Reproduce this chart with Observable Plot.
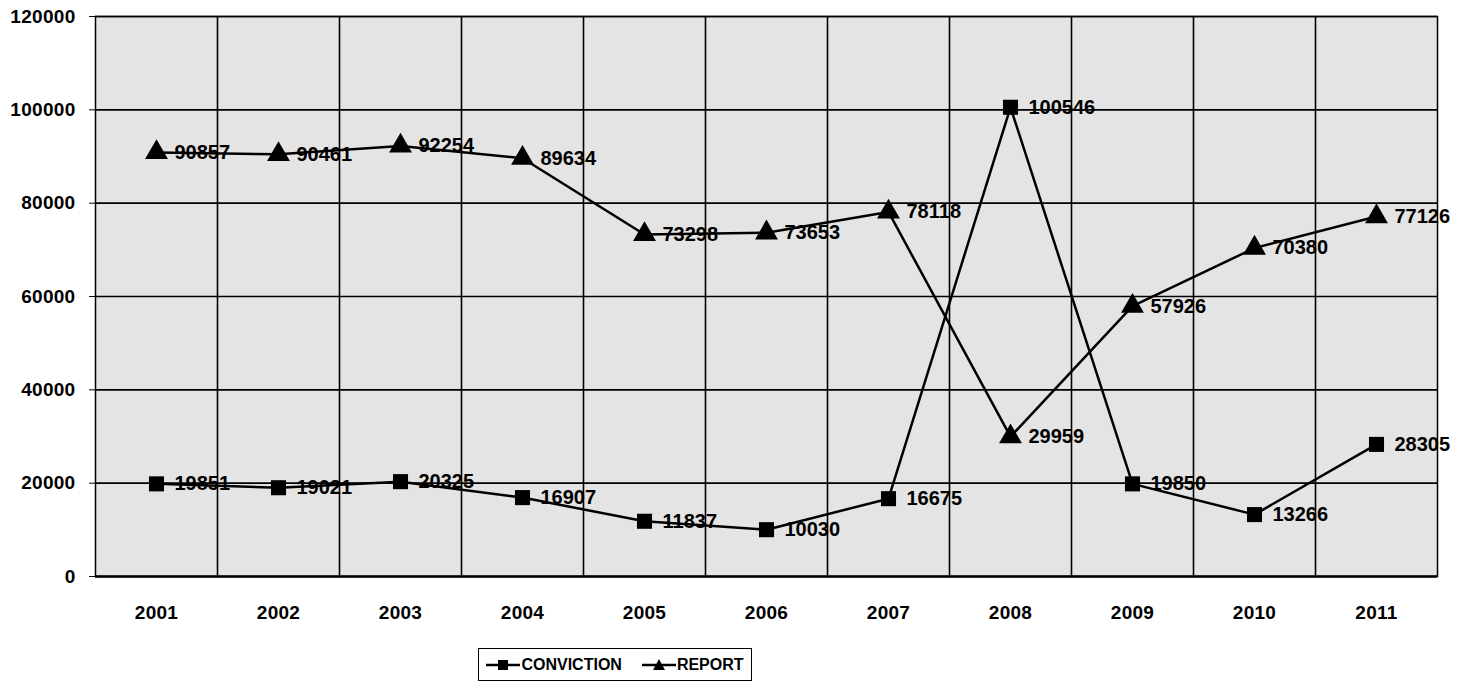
<!DOCTYPE html>
<html><head><meta charset="utf-8">
<script src="https://cdn.jsdelivr.net/npm/d3@7"></script>
<script src="https://cdn.jsdelivr.net/npm/@observablehq/plot@0.6"></script>
<style>
body{margin:0;background:#fff;font-family:"Liberation Sans",Arial,sans-serif;}
#legend{position:absolute;left:478px;top:648px;width:272px;height:31px;border:1.5px solid #000;display:flex;align-items:center;justify-content:center;gap:20px;font-weight:bold;font-size:16px;background:#fff;}
.item{display:flex;align-items:center;gap:1px;}
#chart svg g[aria-label="y-axis tick label"] text,
#chart svg g[aria-label="x-axis tick label"] text{font-size:19px;font-weight:bold;letter-spacing:0.3px;}
</style>
</head><body>
<div id="chart"></div>
<div id="legend">
  <div class="item"><svg width="34" height="16"><line x1="0" y1="8" x2="34" y2="8" stroke="#000" stroke-width="2.5"/><rect x="12" y="3" width="10" height="10" fill="#000"/></svg><span>CONVICTION</span></div>
  <div class="item"><svg width="34" height="16"><line x1="0" y1="8" x2="34" y2="8" stroke="#000" stroke-width="2.5"/><path d="M17,2 L23,13 L11,13 Z" fill="#000"/></svg><span>REPORT</span></div>
</div>
<script>
const years = [2001,2002,2003,2004,2005,2006,2007,2008,2009,2010,2011];
const conviction = [19851,19021,20325,16907,11837,10030,16675,100546,19850,13266,28305];
const report = [90857,90461,92254,89634,73298,73653,78118,29959,57926,70380,77126];
const yTicks = [0,20000,40000,60000,80000,100000,120000];

const convData = years.map((y,i)=>({year:y, value:conviction[i]}));
const repData = years.map((y,i)=>({year:y, value:report[i]}));
const bounds = years.slice(0,-1).map(y=>y+0.5);

const chart = Plot.plot({
  width: 1472,
  height: 640,
  marginLeft: 95,
  marginRight: 35,
  marginTop: 16,
  marginBottom: 64,
  style: {fontFamily:'"Liberation Sans",Arial,sans-serif', fontSize:"19px", fontWeight:"bold", color:"#000", background:"#fff"},
  x: {domain:[2000.5, 2011.5]},
  y: {domain:[0,120000]},
  marks: [
    Plot.frame({fill:"#e4e4e4", stroke:"#000", strokeWidth:1.5}),
    Plot.ruleY(yTicks.slice(1), {stroke:"#000", strokeWidth:1.6}),
    Plot.ruleX(bounds, {stroke:"#000", strokeWidth:1.6}),
    Plot.ruleY([0], {stroke:"#000", strokeWidth:2.5}),
    Plot.line(repData, {x:"year", y:"value", stroke:"#000", strokeWidth:2.5}),
    Plot.line(convData, {x:"year", y:"value", stroke:"#000", strokeWidth:2.5}),
    Plot.dot(repData, {x:"year", y:"value", symbol:"triangle", r:8.5, fill:"#000"}),
    Plot.dot(convData, {x:"year", y:"value", symbol:"square", r:8.5, fill:"#000"}),
    Plot.text(repData, {x:"year", y:"value", text:d=>String(d.value), dx:18, textAnchor:"start", fontSize:20, fontWeight:"bold", fill:"#000"}),
    Plot.text(convData, {x:"year", y:"value", text:d=>String(d.value), dx:18, textAnchor:"start", fontSize:20, fontWeight:"bold", fill:"#000"}),
    Plot.axisY({ticks:yTicks, tickSize:6, tickPadding:14, tickFormat:d=>String(d), label:null}),
    Plot.axisX({ticks:years, tickSize:0, tickPadding:29, tickFormat:d=>String(d), label:null})
  ]
});
document.getElementById("chart").appendChild(chart);
</script>
</body></html>
